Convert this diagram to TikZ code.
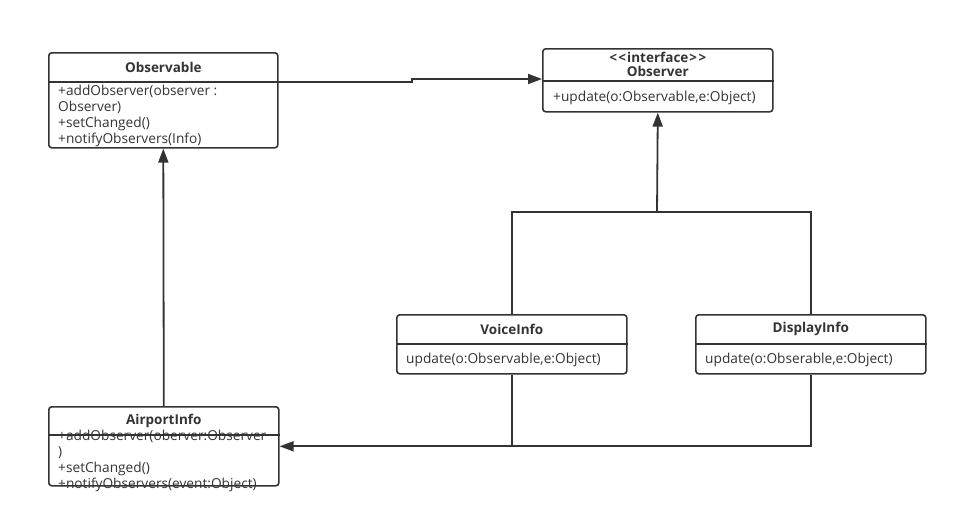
\documentclass[tikz,border=0pt]{standalone}
\usepackage{fontspec}
\setmainfont{Open Sans}
\usetikzlibrary{arrows.meta,positioning}
\definecolor{umlgray}{HTML}{333333}

\tikzset{
  classbox/.style={draw=umlgray, line width=1.6pt, rounded corners=3pt, anchor=north west, inner sep=0pt},
  divider/.style={draw=umlgray, line width=1.6pt},
  classname/.style={font=\fontsize{13.5}{15}\selectfont\bfseries, text=umlgray, inner sep=0pt},
  members/.style={font=\fontsize{13.7}{16}\selectfont, text=umlgray, align=left, anchor=north west, inner sep=0pt},
  link/.style={draw=umlgray, line width=1.8pt},
  inherit/.style={link, -{Triangle[length=14pt,width=10pt]}},
}

\begin{document}
\begin{tikzpicture}[x=1pt, y=-1pt]
  \useasboundingbox (0,0) rectangle (957,517);

  % classes
  \node[classbox, minimum width=229pt, minimum height=95pt] (observable) at (48,52) {};
  \node[classbox, minimum width=230pt, minimum height=63pt] (observer) at (542,48) {};
  \node[classbox, minimum width=230pt, minimum height=59pt] (voiceinfo) at (396,314) {};
  \node[classbox, minimum width=230pt, minimum height=59pt] (displayinfo) at (695,314) {};
  \node[classbox, minimum width=230pt, minimum height=79pt] (airportinfo) at (48,406) {};

  % dividers
  \draw[divider] ([yshift=-30pt]observable.north west) -- ([yshift=-30pt]observable.north east);
  \draw[divider] ([yshift=-33pt]observer.north west) -- ([yshift=-33pt]observer.north east);
  \draw[divider] ([yshift=-30pt]voiceinfo.north west) -- ([yshift=-30pt]voiceinfo.north east);
  \draw[divider] ([yshift=-30pt]displayinfo.north west) -- ([yshift=-30pt]displayinfo.north east);
  \draw[divider] ([yshift=-29pt]airportinfo.north west) -- ([yshift=-29pt]airportinfo.north east);

  % texts
  \node[classname] (observabletitle) at ([yshift=-15pt]observable.north) {Observable};
  \node[members] (observablebody) at ([xshift=10pt,yshift=-33pt]observable.north west)
    {+addObserver(observer :\\Observer)\\+setChanged()\\+notifyObservers(Info)};

  \node[classname, align=center] (observertitle) at ([yshift=-16pt]observer.north)
    {<\kern1.5pt<\kern1pt interface\kern1pt>\kern1.5pt>\\[-1pt]Observer};
  \node[members] (observerbody) at ([xshift=11pt,yshift=-43pt]observer.north west)
    {+update(o:Observable,e:Object)};

  \node[classname] (voicetitle) at ([yshift=-15pt]voiceinfo.north) {VoiceInfo};
  \node[members] (voicebody) at ([xshift=10pt,yshift=-39pt]voiceinfo.north west)
    {update(o:Observable,e:Object)};

  \node[classname] (displaytitle) at ([yshift=-15pt]displayinfo.north) {DisplayInfo};
  \node[members] (displaybody) at ([xshift=10pt,yshift=-39pt]displayinfo.north west)
    {update(o:Obserable,e:Object)};

  \node[classname] (airporttitle) at ([yshift=-15pt]airportinfo.north) {AirportInfo};
  \node[members] (airportbody) at ([xshift=10pt,yshift=-24pt]airportinfo.north west)
    {+addObserver(oberver:Observer\\)\\+setChanged()\\+notifyObservers(event:Object)};

  % connectors
  \coordinate (joinup) at (657,212);
  \draw[inherit] ([yshift=-30pt]observable.north east) -- ++(133,0) |- ([yshift=-31pt]observer.north west);
  \draw[link] (voiceinfo.north) |- (joinup) -| (displayinfo.north);
  \draw[inherit] (joinup) -- (observer.south);
  \draw[inherit] (airportinfo.north) -- (observable.south);
  \draw[link] (voiceinfo.south) -- (voiceinfo.south |- airportinfo.east);
  \draw[inherit] (displayinfo.south) |- (airportinfo.east);
\end{tikzpicture}
\end{document}
